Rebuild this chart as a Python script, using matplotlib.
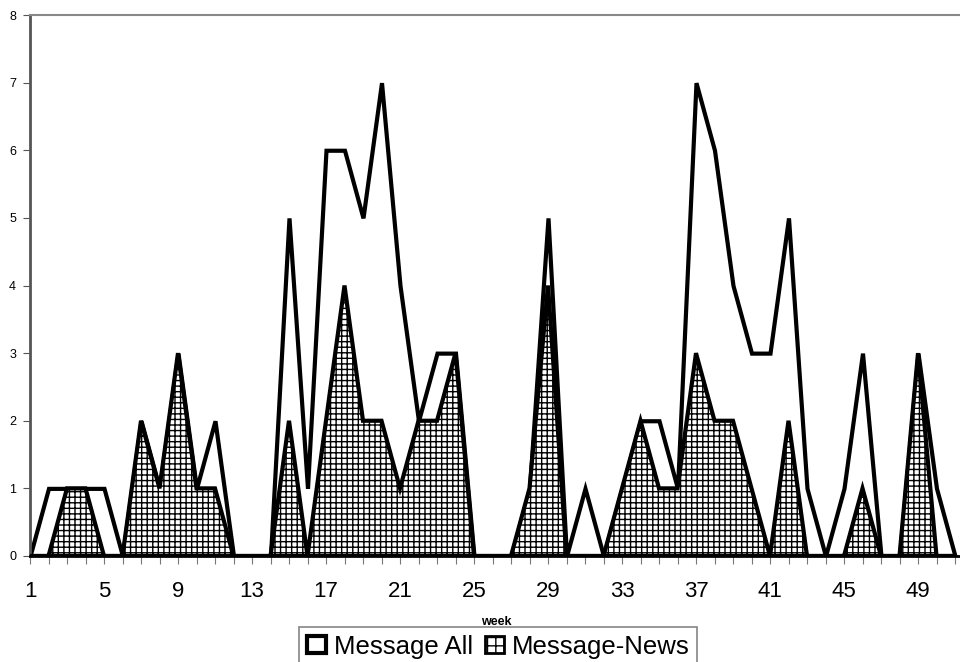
import matplotlib
matplotlib.use("Agg")
import matplotlib.pyplot as plt
from matplotlib.patches import Patch

# weekly message counts
weeks = list(range(1, 52))
message_all = [0, 1, 1, 1, 1, 0, 2, 1, 3, 1, 2, 0, 0, 0, 5, 1, 6, 6, 5, 7,
               4, 2, 3, 3, 0, 0, 0, 1, 5, 0, 1, 0, 1, 2, 2, 1, 7, 6, 4, 3,
               3, 5, 1, 0, 1, 3, 0, 0, 3, 1, 0]
message_news = [0, 0, 1, 1, 0, 0, 2, 1, 3, 1, 1, 0, 0, 0, 2, 0, 2, 4, 2, 2,
                1, 2, 2, 3, 0, 0, 0, 1, 4, 0, 0, 0, 1, 2, 1, 1, 3, 2, 2, 1,
                0, 2, 0, 0, 0, 1, 0, 0, 3, 0, 0]
xtick_weeks = list(range(1, 52, 4))

plt.rcParams["font.family"] = ["Liberation Sans", "DejaVu Sans"]
plt.rcParams["hatch.linewidth"] = 1.0

fig = plt.figure(figsize=(9.6, 6.62), dpi=100)
ax = fig.add_axes([30 / 960, 1 - 556 / 662, 1 - 30 / 960, (556 - 15) / 662])

ax.fill_between(weeks, message_all, 0, facecolor="white", edgecolor="black",
                linewidth=3, joinstyle="miter", zorder=2)
ax.fill_between(weeks, message_news, 0, facecolor="white", edgecolor="black",
                hatch="+++", linewidth=3, joinstyle="miter", zorder=3)

ax.set_xlim(1, 51.27)
ax.set_ylim(0, 8)
ax.set_xticks(weeks)
ax.set_xticklabels([str(w) if w in xtick_weeks else "" for w in weeks], fontsize=16)
ax.set_yticks(range(0, 9))
ax.tick_params(axis="y", labelsize=9, length=5, color="#555555", pad=5)
ax.tick_params(axis="x", length=6, color="#777777", pad=12)

ax.spines["right"].set_visible(False)
ax.spines["top"].set_color("#888888")
ax.spines["top"].set_linewidth(1.5)
ax.spines["left"].set_color("#555555")
ax.spines["left"].set_linewidth(2)
ax.spines["bottom"].set_color("black")
ax.spines["bottom"].set_linewidth(2)
ax.spines["bottom"].set_zorder(5)

fig.text(0.5165, 1 - 622 / 662, "week", ha="center", va="center",
         fontsize=9, fontweight="bold")

handles = [
    Patch(facecolor="white", edgecolor="black", linewidth=3, label="Message All"),
    Patch(facecolor="white", edgecolor="black", linewidth=2, hatch="++", label="Message-News"),
]
leg = fig.legend(handles=handles, loc="upper center", bbox_to_anchor=(0.519, 1 - 627 / 662),
                 ncol=2, fontsize=18.5, frameon=True, fancybox=False, borderpad=0.3,
                 handlelength=0.75, handleheight=0.65, handletextpad=0.3, columnspacing=0.45,
                 borderaxespad=0)
leg.get_frame().set_edgecolor("#666666")
leg.get_frame().set_linewidth(1.2)

fig.savefig("out.png", dpi=100)
